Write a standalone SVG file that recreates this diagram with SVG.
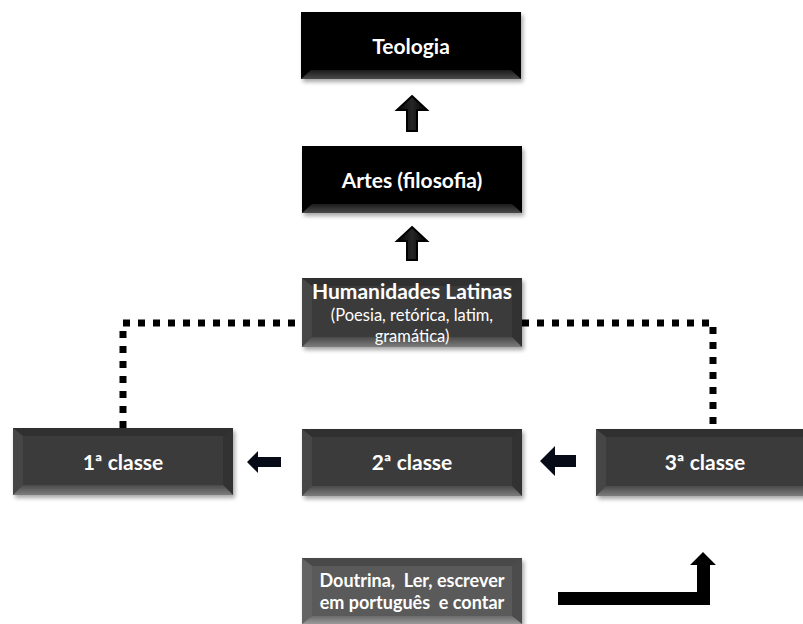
<svg xmlns="http://www.w3.org/2000/svg" width="803" height="624" viewBox="0 0 803 624">
<defs>
<filter id="sh" x="-10%" y="-10%" width="130%" height="140%"><feGaussianBlur stdDeviation="2"/></filter>
<linearGradient id="botDark" x1="0" y1="0" x2="0" y2="1"><stop offset="0" stop-color="#1a1a1a"/><stop offset="1" stop-color="#4a4a4a"/></linearGradient>
<linearGradient id="botGray" x1="0" y1="0" x2="0" y2="1"><stop offset="0" stop-color="#4a4a4a"/><stop offset="1" stop-color="#7d7d7d"/></linearGradient>
<linearGradient id="botLight" x1="0" y1="0" x2="0" y2="1"><stop offset="0" stop-color="#6a6a6a"/><stop offset="1" stop-color="#9a9a9a"/></linearGradient>
<linearGradient id="arrUp" x1="0" y1="0" x2="1" y2="0"><stop offset="0" stop-color="#000"/><stop offset="0.5" stop-color="#262626"/><stop offset="1" stop-color="#000"/></linearGradient>
<style>
.shadow{fill:#000;opacity:0.35;filter:url(#sh)}
.black{fill:#000}
.gray{fill:#3b3b3b}
.light{fill:#5a5a5a}
.topb{fill:#000;opacity:0.18}
.leftb{fill:#fff;opacity:0.06}
.rightb{fill:#000;opacity:0.15}
.t{font-family:Lato,"Liberation Sans",sans-serif;fill:#fff;text-anchor:middle;white-space:pre}
.b{font-weight:bold}
.dot{fill:none;stroke:#000;stroke-width:7;stroke-dasharray:7 8}
.arr{fill:#000}
.arrL{fill:#070b18}
</style>
</defs>

<g id="connectors">
<path class="dot" d="M123,428 V323 H302"/>
<path class="dot" d="M522,323 H713 V428"/>
<path fill="url(#arrUp)" stroke="#000" stroke-width="2" d="M412,96 L427,110 H417 V131 H407 V110 H397 Z"/>
<path fill="url(#arrUp)" stroke="#000" stroke-width="2" d="M412,227 L427,241 H417 V260 H407 V241 H397 Z"/>
<path class="arrL" d="M540,461 L555,446 V455 H576 V467 H555 V476 Z"/>
<path class="arrL" d="M247,462 L258,451 V457 H281 V467 H258 V473 Z"/>
<path class="arr" d="M558,592 H697 V565 H690 L703,552 L716,565 H710 V605 H558 Z"/>
</g>

<g id="teologia">
<rect class="shadow" x="303" y="15" width="220" height="67"/>
<rect class="black" x="301" y="12" width="220" height="67"/>
<polygon fill="url(#botDark)" points="301,79 521,79 511,70 311,70"/>
<text class="t b" x="411" y="54" font-size="21">Teologia</text>
</g>

<g id="artes">
<rect class="shadow" x="304" y="149" width="220" height="67"/>
<rect class="black" x="302" y="146" width="220" height="67"/>
<polygon fill="url(#botDark)" points="302,213 522,213 512,204 312,204"/>
<text class="t b" x="412" y="188" font-size="21">Artes (filosofia)</text>
</g>

<g id="humanidades">
<rect class="shadow" x="304" y="281" width="220" height="69"/>
<rect class="gray" x="302" y="278" width="220" height="69"/>
<polygon class="topb" points="302,278 522,278 512,286 312,286"/>
<polygon class="leftb" points="302,278 312,286 312,337 302,347"/>
<polygon class="rightb" points="522,278 512,286 512,337 522,347"/>
<polygon fill="url(#botGray)" points="302,347 522,347 512,337 312,337"/>
<text class="t b" x="412" y="299" font-size="21">Humanidades Latinas</text>
<text class="t" x="412" y="321" font-size="16.5">(Poesia, retórica, latim,</text>
<text class="t" x="412" y="342" font-size="16.5">gramática)</text>
</g>

<g id="classe1">
<rect class="shadow" x="15" y="431" width="220" height="67"/>
<rect class="gray" x="13" y="428" width="220" height="67"/>
<polygon class="topb" points="13,428 233,428 223,436 23,436"/>
<polygon class="leftb" points="13,428 23,436 23,485 13,495"/>
<polygon class="rightb" points="233,428 223,436 223,485 233,495"/>
<polygon fill="url(#botGray)" points="13,495 233,495 223,485 23,485"/>
<text class="t b" x="123" y="470" font-size="21">1ª classe</text>
</g>

<g id="classe2">
<rect class="shadow" x="304" y="432" width="220" height="67"/>
<rect class="gray" x="302" y="429" width="220" height="67"/>
<polygon class="topb" points="302,429 522,429 512,437 312,437"/>
<polygon class="leftb" points="302,429 312,437 312,486 302,496"/>
<polygon class="rightb" points="522,429 512,437 512,486 522,496"/>
<polygon fill="url(#botGray)" points="302,496 522,496 512,486 312,486"/>
<text class="t b" x="412" y="470" font-size="21">2ª classe</text>
</g>

<g id="classe3">
<rect class="shadow" x="598" y="432" width="220" height="67"/>
<rect class="gray" x="596" y="429" width="220" height="67"/>
<polygon class="topb" points="596,429 816,429 806,437 606,437"/>
<polygon class="leftb" points="596,429 606,437 606,486 596,496"/>
<polygon fill="url(#botGray)" points="596,496 816,496 806,486 606,486"/>
<text class="t b" x="705" y="470" font-size="21">3ª classe</text>
</g>

<g id="doutrina">
<rect class="shadow" x="304" y="561" width="220" height="66"/>
<rect class="light" x="302" y="558" width="220" height="66"/>
<polygon class="topb" points="302,558 522,558 512,566 312,566"/>
<polygon class="leftb" points="302,558 312,566 312,616 302,624"/>
<polygon class="rightb" points="522,558 512,566 512,616 522,624"/>
<polygon fill="url(#botLight)" points="302,624 522,624 512,616 312,616"/>
<text class="t b" x="412" y="587" font-size="18">Doutrina,  Ler, escrever</text>
<text class="t b" x="412" y="609" font-size="18">em português  e contar</text>
</g>
</svg>
